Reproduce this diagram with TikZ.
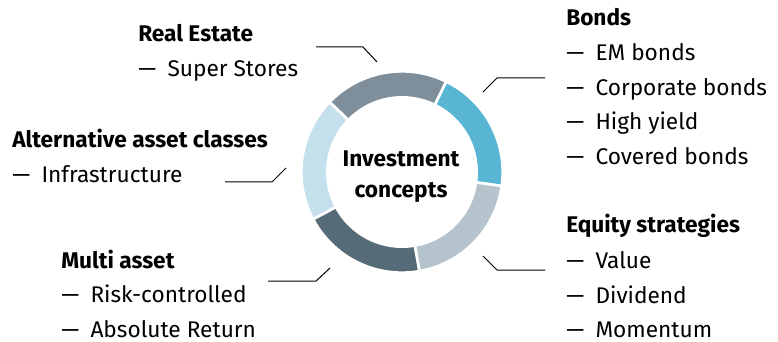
\documentclass[tikz,border=0pt]{standalone}
\usepackage{fontspec}
\setmainfont{Fira Sans}
\definecolor{bondblue}{HTML}{58B6D4}
\definecolor{realgrey}{HTML}{7E8F9B}
\definecolor{altblue}{HTML}{C4E0EC}
\definecolor{multislate}{HTML}{566B78}
\definecolor{equitygrey}{HTML}{B5C3CD}
\newcommand{\dashitem}{—\enspace}

\begin{document}
\begin{tikzpicture}[x=0.75pt,y=-0.75pt]
 \tikzstyle{every node}=[inner sep=0pt,anchor=base west,font=\fontsize{17}{20}\selectfont]
 \tikzstyle{head}=[font=\fontsize{17}{20}\selectfont\bfseries]
 \tikzstyle{leader}=[line width=0.75pt,black]
 \tikzstyle{seg}=[draw=white,line width=2pt]
 \useasboundingbox (0,0) rectangle (778,342);

 % ring
 \begin{scope}[shift={(402,172)}]
 \foreach \a/\b/\c in {-8/64/bondblue,64/136/realgrey,136/208/altblue,208/280/multislate,280/352/equitygrey}
  \filldraw[seg,fill=\c] (\a:75.5pt) arc[start angle=\a,end angle=\b,radius=75.5pt]
   -- (\b:56pt) arc[start angle=\b,end angle=\a,radius=56pt] -- cycle;
 \end{scope}
 \node[head,anchor=base] (inv) at (401,167) {Investment};
 \node[head,anchor=base] (con) at (401,197) {concepts};

 % groups
 \path
 (138,42)   node[head] (real) {Real Estate}
 ++(0,35)   node (real1) {\dashitem Super Stores}
 ;
 \path
 (12,148)   node[head] (alt) {Alternative asset classes}
 ++(0,35)   node (alt1) {\dashitem Infrastructure}
 ;
 \path
 (61,268)   node[head] (multi) {Multi asset}
 ++(0,34.5) node (multi1) {\dashitem Risk-controlled}
 ++(0,34.5) node (multi2) {\dashitem Absolute Return}
 ;
 \path
 (566,26)   node[head] (bonds) {Bonds}
 ++(0,35)   node (bonds1) {\dashitem EM bonds}
 ++(0,34.5) node (bonds2) {\dashitem Corporate bonds}
 ++(0,34.5) node (bonds3) {\dashitem High yield}
 ++(0,34.5) node (bonds4) {\dashitem Covered bonds}
 ;
 \path
 (566,233)  node[head] (equity) {Equity strategies}
 ++(0,35.5) node (equity1) {\dashitem Value}
 ++(0,34.5) node (equity2) {\dashitem Dividend}
 ++(0,34.5) node (equity3) {\dashitem Momentum}
 ;

 % leader lines
 \coordinate (r0) at (316,47);  \coordinate (r1) at (363,47);  \coordinate (r2) at (377,62);
 \coordinate (a0) at (225,182); \coordinate (a1) at (272,182); \coordinate (a2) at (286,168);
 \coordinate (m0) at (268,281); \coordinate (m1) at (316,281); \coordinate (m2) at (330,268);
 \coordinate (b0) at (545,78);  \coordinate (b1) at (497,78);  \coordinate (b2) at (483,92);
 \coordinate (e0) at (545,270); \coordinate (e1) at (497,270); \coordinate (e2) at (483,256);
 \path[draw,leader]
 (r0) -- (r1) -- (r2)
 (a0) -- (a1) -- (a2)
 (m0) -- (m1) -- (m2)
 (b0) -- (b1) -- (b2)
 (e0) -- (e1) -- (e2)
 ;
\end{tikzpicture}
\end{document}
